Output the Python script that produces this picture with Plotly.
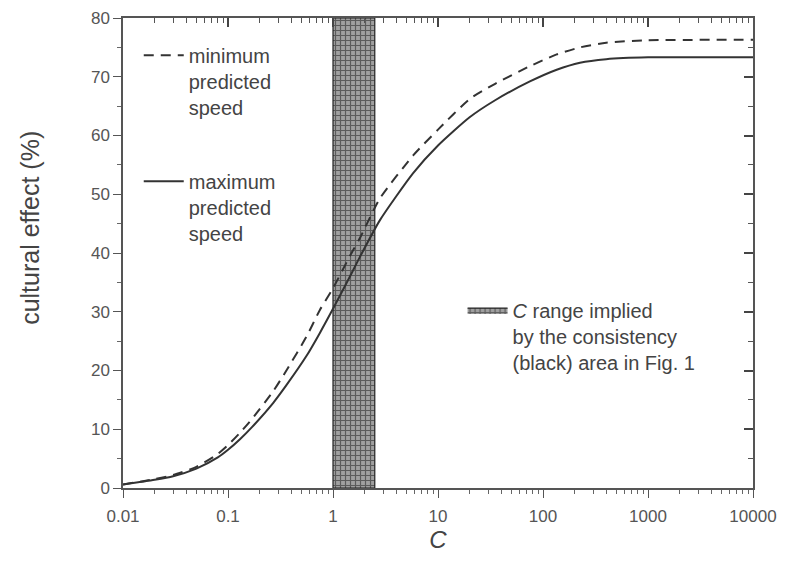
import plotly.graph_objects as go

# ---- data ----
c_values = [0.01, 0.02, 0.03, 0.05, 0.08, 0.1, 0.13, 0.17, 0.27, 0.36, 0.56, 0.75, 1.0,
            1.45, 1.8, 2.8, 5.8, 10, 20, 35, 75, 135, 225, 400, 1000, 10000]
effect_min_speed = [0.6, 1.5, 2.2, 3.6, 5.8, 7.3, 9.4, 11.8, 16.5, 20.0, 25.8, 30.3, 34.0,
                    39.5, 42.5, 49.3, 56.6, 61.0, 66.2, 68.8, 71.8, 73.8, 75.0, 75.8, 76.2, 76.3]
effect_max_speed = [0.6, 1.4, 2.0, 3.3, 5.2, 6.5, 8.3, 10.4, 14.5, 17.5, 22.5, 26.4, 30.5,
                    36.0, 39.3, 45.6, 53.6, 58.3, 63.1, 66.0, 69.2, 71.2, 72.4, 73.0, 73.3, 73.3]
band_c_range = [1.0, 2.5]          # C range implied by the consistency area
y_limits = [0, 80]
x_log_limits = [-2, 4]
x_tick_vals = [0.01, 0.1, 1, 10, 100, 1000, 10000]
x_tick_text = ["0.01", "0.1", "1", "10", "100", "1000", "10000"]

FONT = "Liberation Sans, Arial, sans-serif"
INK = "#333333"
TXT = "#444444"
AX = "#555555"

fig = go.Figure()

# hatched band (base axes, drawn underneath)
band_x = [band_c_range[0], band_c_range[1], band_c_range[1], band_c_range[0], band_c_range[0]]
band_y = [y_limits[0], y_limits[0], y_limits[1], y_limits[1], y_limits[0]]
fig.add_trace(go.Scatter(
    x=band_x, y=band_y, mode="lines", fill="toself",
    line=dict(color="#222222", width=1.2),
    fillcolor="#9a9a9a",
    fillpattern=dict(shape="+", fgcolor="#151515", bgcolor="#a0a0a0", size=5, solidity=0.42),
    name="<i>C</i> range implied<br>by the consistency<br>(black) area in Fig. 1",
    legend="legend2", hoverinfo="skip",
))

# curves on overlay axes (drawn on top; overlay axes give inward ticks on top/right)
fig.add_trace(go.Scatter(
    x=c_values, y=effect_min_speed, mode="lines", xaxis="x2", yaxis="y2",
    line=dict(color=INK, width=2, dash="10px,7px", shape="spline", smoothing=0.6),
    name="minimum<br>predicted<br>speed", legendgroup="a",
))
fig.add_trace(go.Scatter(
    x=c_values, y=effect_max_speed, mode="lines", xaxis="x2", yaxis="y2",
    line=dict(color=INK, width=2, shape="spline", smoothing=0.6),
    name="maximum<br>predicted<br>speed", legendgroup="b",
))

fig.update_layout(
    width=779, height=556,
    margin=dict(l=115, r=34, t=10, b=76),
    paper_bgcolor="white", plot_bgcolor="white",
    font=dict(family=FONT, color=TXT, size=16),
    showlegend=True,
    legend=dict(
        x=0.025, y=0.962, xanchor="left", yanchor="top",
        bgcolor="rgba(0,0,0,0)", font=dict(size=20, color=TXT),
        tracegroupgap=45, valign="top", itemwidth=40,
    ),
    legend2=dict(
        x=0.539, y=0.42, xanchor="left", yanchor="top",
        bgcolor="rgba(0,0,0,0)", font=dict(size=20, color=TXT),
        valign="top", itemwidth=40,
    ),
    xaxis=dict(
        type="log", range=x_log_limits, automargin=False,
        tickvals=x_tick_vals, ticktext=x_tick_text,
        ticks="outside", ticklen=8, tickcolor=AX, tickwidth=1.3, ticklabelstandoff=4,
        minor=dict(ticks="outside", ticklen=4, dtick="D1", tickcolor="#666"),
        showline=True, linecolor=AX, linewidth=1.5, mirror=True,
        showgrid=False, zeroline=False,
        tickfont=dict(size=17, color=AX),
        title=dict(text="<i>C</i>", font=dict(size=24, color=TXT), standoff=6),
    ),
    yaxis=dict(
        range=y_limits, dtick=10, automargin=False,
        ticks="outside", ticklen=8, tickcolor=AX, tickwidth=1.3,
        minor=dict(ticks="outside", ticklen=4, dtick=5, tickcolor="#666"),
        showline=True, linecolor=AX, linewidth=1.5, mirror=True,
        showgrid=False, zeroline=False,
        tickfont=dict(size=17, color=AX),
    ),
    xaxis2=dict(
        type="log", range=x_log_limits, overlaying="x", side="top", anchor="y2",
        automargin=False, tickvals=x_tick_vals, showticklabels=False,
        ticks="inside", ticklen=9, tickcolor="#444", tickwidth=1.5,
        minor=dict(ticks="inside", ticklen=5, dtick="D1", tickcolor="#555", tickwidth=1.2),
        showline=True, linecolor=AX, linewidth=1.5, showgrid=False, zeroline=False,
    ),
    yaxis2=dict(
        range=y_limits, dtick=10, overlaying="y", side="right", anchor="x2",
        automargin=False, showticklabels=False,
        ticks="inside", ticklen=9, tickcolor="#444", tickwidth=1.5,
        minor=dict(ticks="inside", ticklen=5, dtick=5, tickcolor="#555", tickwidth=1.2),
        showline=True, linecolor=AX, linewidth=1.5, showgrid=False, zeroline=False,
    ),
    annotations=[dict(
        text="cultural effect (%)", textangle=-90,
        xref="paper", yref="paper", x=-0.148, y=0.553,
        xanchor="center", yanchor="middle", showarrow=False,
        font=dict(size=25, color=TXT),
    )],
)

fig.write_html("out.html")
